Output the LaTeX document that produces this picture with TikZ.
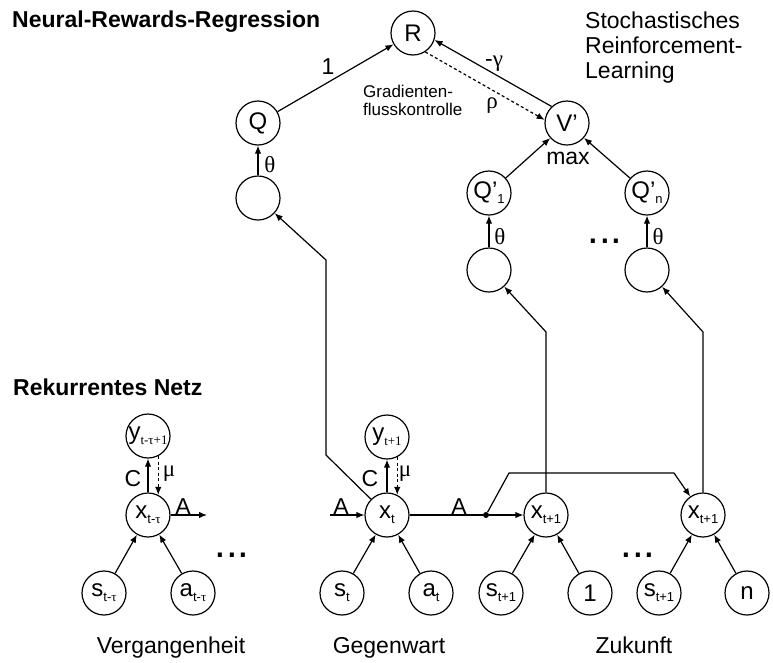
\documentclass[tikz,border=0pt]{standalone}
\usepackage{fontspec}
\setmainfont{Liberation Sans}
\newfontfamily\grk{Liberation Serif}
\usetikzlibrary{arrows.meta}
\newcommand\nodefont{\fontsize{24}{26}\selectfont}
\newcommand\lblfont{\fontsize{23}{25}\selectfont}
\newcommand\smallfont{\fontsize{17}{18}\selectfont}
\newcommand\subs[1]{\raisebox{-5pt}{\fontsize{13}{13}\selectfont #1}}
\newcommand\ctr[1]{\makebox[0pt][c]{#1}}

\begin{document}
\begin{tikzpicture}[x=1pt,y=-1pt,
  unit/.style={circle,draw,line width=1.2pt,minimum size=44pt,inner sep=0pt,font=\nodefont},
  link/.style={line width=1.2pt,-{Latex[length=8pt,width=6.5pt]}},
  ctl/.style={link,dash pattern=on 3pt off 2.5pt},
  wire/.style={line width=1.2pt},
  lbl/.style={font=\lblfont,inner sep=0pt},
  grklbl/.style={font=\lblfont\grk,inner sep=0pt},
  head/.style={font=\lblfont\bfseries,inner sep=0pt,anchor=base west},
  textline/.style={font=\lblfont,inner sep=0pt,anchor=base west},
  note/.style={font=\smallfont,inner sep=0pt,anchor=base west},
  dots/.style={font=\fontsize{42}{42}\selectfont,inner sep=0pt,anchor=base},
  junction/.style={circle,fill,inner sep=0pt,minimum size=6pt},
]
\useasboundingbox (0,0) rectangle (773,662);

% ---------- headings ----------
\node[head] (hnrr) at (12,27) {Neural-Rewards-Regression};
\node[head] (hrn) at (13,395) {Rekurrentes Netz};
\node[textline] (srl1) at (585,28) {Stochastisches};
\node[textline] (srl2) at (585,53) {Reinforcement-};
\node[textline] (srl3) at (585,78) {Learning};

% ---------- reward network ----------
\node[unit] (R)  at (413,33)  {R};
\node[unit] (Q)  at (258,123) {Q};
\node[unit] (V)  at (567,123) {V’};
\node[unit] (H0) at (258,198) {};
\node[unit] (Q1) at (489,193) {\ctr{Q’\subs{1}}};
\node[unit] (H1) at (489,270) {};
\node[unit] (Qn) at (647,193) {\ctr{Q’\subs{n}}};
\node[unit] (Hn) at (647,270) {};

\draw[link] (Q) -- (R);
\draw[link] (V.133) -- (R.-18);
\draw[ctl] (R.-57) -- (V.172);
\draw[link] (Q1) -- (V);
\draw[link] (Qn) -- (V);
\draw[link] (H0) -- (Q);
\draw[link] (H1) -- (Q1);
\draw[link] (Hn) -- (Qn);

\node[lbl] (l1) at (328,67) {1};
\node[lbl] (lgam) at (494,64) {-{\grk γ}};
\node[grklbl] (lrho) at (492,106) {ρ};
\node[note] (gfk1) at (363,97) {Gradienten-};
\node[note] (gfk2) at (363,115) {flusskontrolle};
\node[lbl] (lmax) at (568,158) {max};
\node[grklbl] (th0) at (270,165) {θ};
\node[grklbl] (th1) at (500,237) {θ};
\node[grklbl] (thn) at (658,237) {θ};
\node[dots] (dtop) at (605,243) {...};

% ---------- recurrent network: past ----------
\node[unit] (Yp) at (148,436) {\ctr{y\subs{\grk t-τ+1}}};
\node[unit] (Xp) at (148,515) {\ctr{x\subs{t-{\grk τ}}}};
\node[unit] (Sp) at (104,593) {\ctr{s\subs{t-{\grk τ}}}};
\node[unit] (Ap) at (193,593) {\ctr{a\subs{t-{\grk τ}}}};
\coordinate (Aout) at (207,515);

\draw[link] (Sp) -- (Xp);
\draw[link] (Ap) -- (Xp);
\draw[link] (Xp.90) -- (Yp.-90);
\draw[ctl] (Yp.-63) -- (Xp.63);
\draw[link] (Xp) -- (Aout);

\node[lbl] (Cp) at (133,479) {C};
\node[grklbl] (mup) at (169,474) {μ};
\node[lbl] (Apl) at (183,507) {A};
\node[dots] (dpast) at (232,557) {...};

% ---------- recurrent network: present ----------
\node[unit] (Yc) at (387,437) {\ctr{y\subs{\grk t+1}}};
\node[unit] (Xc) at (387,515) {\ctr{x\subs{t}}};
\node[unit] (Sc) at (342,593) {\ctr{s\subs{t}}};
\node[unit] (Ac) at (431,593) {\ctr{a\subs{t}}};
\coordinate (Ain) at (330,515);

\draw[link] (Ain) -- (Xc);
\draw[link] (Sc) -- (Xc);
\draw[link] (Ac) -- (Xc);
\draw[link] (Xc.90) -- (Yc.-90);
\draw[ctl] (Yc.-63) -- (Xc.63);
\draw[link] (Xc) -- (326,455) -- (326,260) -- (H0);

\node[lbl] (Ccl) at (370,479) {C};
\node[grklbl] (muc) at (405,474) {μ};
\node[lbl] (Ain1) at (341,507) {A};
\node[lbl] (Aout1) at (459,507) {A};

% ---------- recurrent network: future ----------
\node[junction] (J) at (486,515) {};
\node[unit] (Xf) at (546,515) {\ctr{x\subs{t+1}}};
\node[unit] (Xg) at (703,515) {\ctr{x\subs{t+1}}};
\node[unit] (Sf) at (501,593) {\ctr{s\subs{t+1}}};
\node[unit] (Uf) at (590,593) {1};
\node[unit] (Sg) at (659,593) {\ctr{s\subs{t+1}}};
\node[unit] (Ug) at (747,593) {n};

\draw[wire] (Xc) -- (J);
\draw[link] (J) -- (Xf);
\draw[link] (J) -- (509,473) -- (674,473) -- (Xg);
\draw[link] (Sf) -- (Xf);
\draw[link] (Uf) -- (Xf);
\draw[link] (Sg) -- (Xg);
\draw[link] (Ug) -- (Xg);
\draw[link] (Xf) -- (546,332) -- (H1);
\draw[link] (Xg) -- (703,332) -- (Hn);

\node[dots] (dfut) at (638,557) {...};

% ---------- captions ----------
\node[lbl,anchor=base] (cpast) at (171,653) {Vergangenheit};
\node[lbl,anchor=base] (cpres) at (389,653) {Gegenwart};
\node[lbl,anchor=base] (cfut) at (634,653) {Zukunft};
\end{tikzpicture}
\end{document}
